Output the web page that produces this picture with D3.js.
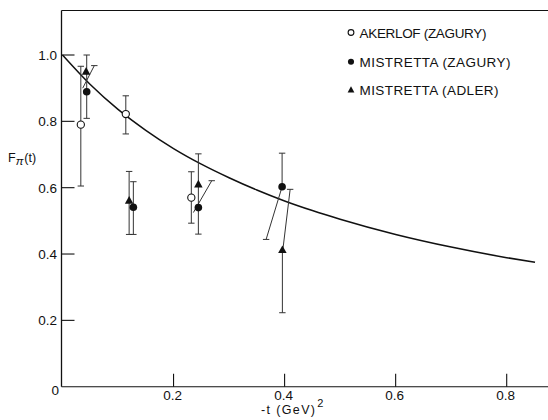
<!DOCTYPE html>
<html>
<head>
<meta charset="utf-8">
<script src="https://cdn.jsdelivr.net/npm/d3@7"></script>
<style>
  html, body { margin: 0; padding: 0; background: #fff; }
  svg { display: block; }
  text { font-family: "Liberation Sans", Arial, sans-serif; fill: #111; }
</style>
</head>
<body>
<svg id="chart" width="548" height="420"></svg>
<script>
// Pion form factor F_pi(t) versus -t (GeV)^2

// Theoretical curve, sampled
const curveT = [0, 0.05, 0.1, 0.15, 0.2, 0.25, 0.3, 0.35, 0.4, 0.45, 0.5, 0.6, 0.7, 0.8, 0.851];
const curveF = [1.0, 0.911, 0.836, 0.773, 0.718, 0.671, 0.630, 0.593, 0.560, 0.531, 0.505, 0.459, 0.421, 0.389, 0.375];

// Akerlof (Zagury): open circles
const akerlofT  = [0.033, 0.114, 0.232];
const akerlofF  = [0.790, 0.822, 0.570];
const akerlofLo = [0.605, 0.762, 0.493];
const akerlofHi = [0.966, 0.877, 0.648];

// Mistretta (Zagury): filled circles
const mzT  = [0.0436, 0.1276, 0.2447, 0.3955];
const mzF  = [0.889, 0.541, 0.540, 0.603];
const mzLo = [0.809, 0.459, 0.460, null];
const mzHi = [1.000, 0.618, 0.702, 0.704];

// Mistretta (Adler): filled triangles
const maT  = [0.0425, 0.120, 0.2447, 0.396];
const maF  = [0.950, 0.561, 0.610, 0.412];
const maLo = [null, 0.459, null, 0.223];
const maHi = [null, 0.649, null, null];

// Slanted bars: [t1, F1, t2, F2]; cap drawn at the second end
const slantBars = [
  [0.0364, 0.900, 0.0573, 0.968],
  [0.2357, 0.525, 0.2688, 0.621],
  [0.3937, 0.593, 0.3667, 0.444],
  [0.3968, 0.412, 0.4100, 0.595]
];

const xTicks = [0.2, 0.4, 0.6, 0.8];
const xTickLabels = ["0.2", "0.4", "0.6", "0.8"];
const yTicks = [0, 0.2, 0.4, 0.6, 0.8, 1.0];
const yTickLabels = ["0", "0.2", "0.4", "0.6", "0.8", "1.0"];

const legendLabels = ["AKERLOF (ZAGURY)", "MISTRETTA (ZAGURY)", "MISTRETTA (ADLER)"];
const legendKinds = ["open", "filled", "triangle"];

const svg = d3.select("#chart");
const x = d3.scaleLinear().domain([0, 0.8]).range([62.5, 506.7]);
const y = d3.scaleLinear().domain([0, 1.0]).range([386.7, 55]);
const frameL = 61.5, frameR = 548, frameT = y(1.134), frameB = y(0);

const ink = "#111";

// Frame: left axis, bottom axis, top border
svg.append("line").attr("x1", frameL).attr("x2", frameL).attr("y1", frameT).attr("y2", frameB)
  .attr("stroke", ink).attr("stroke-width", 1.3);
svg.append("line").attr("x1", frameL).attr("x2", frameR).attr("y1", frameB).attr("y2", frameB)
  .attr("stroke", ink).attr("stroke-width", 1.1);
svg.append("line").attr("x1", frameL).attr("x2", frameR).attr("y1", frameT).attr("y2", frameT)
  .attr("stroke", ink).attr("stroke-width", 1.1);

// Y ticks (pointing inward) and labels
yTicks.forEach((v, i) => {
  if (v > 0) {
    svg.append("line").attr("x1", frameL).attr("x2", frameL + 13)
      .attr("y1", y(v)).attr("y2", y(v)).attr("stroke", ink).attr("stroke-width", 1.1);
  }
  svg.append("text").attr("x", v === 0 ? 59 : 57).attr("y", y(v) + (v === 0 ? 8.5 : 5))
    .attr("text-anchor", "end").attr("font-size", 13.5).text(yTickLabels[i]);
});

// X ticks (pointing up) and labels
xTicks.forEach((v, i) => {
  svg.append("line").attr("x1", x(v)).attr("x2", x(v))
    .attr("y1", frameB).attr("y2", frameB - 13).attr("stroke", ink).attr("stroke-width", 1.1);
  svg.append("text").attr("x", x(v) - 1).attr("y", 399.5)
    .attr("text-anchor", "middle").attr("font-size", 13.5).text(xTickLabels[i]);
});

// Axis titles
const xt = svg.append("text").attr("x", 261).attr("y", 414).attr("font-size", 12.5);
xt.append("tspan").attr("textLength", 54).attr("lengthAdjust", "spacing").text("-t (GeV)");
xt.append("tspan").attr("dx", 1).attr("dy", -7).attr("font-size", 11).text("2");

const yt = svg.append("text").attr("x", 8).attr("y", 162).attr("font-size", 12.5);
yt.append("tspan").text("F");
yt.append("tspan").attr("dy", 3).attr("font-size", 11.5).attr("font-style", "italic").text("π");
yt.append("tspan").attr("dy", -3).attr("dx", 1).text("(t)");

// Theoretical curve
const line = d3.line().x(d => x(d[0])).y(d => y(d[1])).curve(d3.curveMonotoneX);
svg.append("path").datum(curveT.map((t, i) => [t, curveF[i]]))
  .attr("d", line).attr("fill", "none").attr("stroke", ink).attr("stroke-width", 1.5);

// Error bars
const barColor = "#333";
const capHalf = 3.2;
function vbar(t, lo, hi) {
  const g = svg.append("g").attr("stroke", barColor).attr("stroke-width", 1);
  g.append("line").attr("x1", x(t)).attr("x2", x(t)).attr("y1", y(lo)).attr("y2", y(hi));
  g.append("line").attr("x1", x(t) - capHalf).attr("x2", x(t) + capHalf).attr("y1", y(hi)).attr("y2", y(hi));
  g.append("line").attr("x1", x(t) - capHalf).attr("x2", x(t) + capHalf).attr("y1", y(lo)).attr("y2", y(lo));
}
function vbarHalf(t, from, to) {
  const g = svg.append("g").attr("stroke", barColor).attr("stroke-width", 1);
  g.append("line").attr("x1", x(t)).attr("x2", x(t)).attr("y1", y(from)).attr("y2", y(to));
  g.append("line").attr("x1", x(t) - capHalf).attr("x2", x(t) + capHalf).attr("y1", y(to)).attr("y2", y(to));
}

akerlofT.forEach((t, i) => vbar(t, akerlofLo[i], akerlofHi[i]));
mzT.forEach((t, i) => {
  if (mzLo[i] !== null) vbar(t, mzLo[i], mzHi[i]);
  else vbarHalf(t, mzF[i], mzHi[i]);
});
maT.forEach((t, i) => {
  if (maLo[i] !== null && maHi[i] !== null) vbar(t, maLo[i], maHi[i]);
  else if (maLo[i] !== null) vbarHalf(t, maF[i], maLo[i]);
});

slantBars.forEach(b => {
  const g = svg.append("g").attr("stroke", barColor).attr("stroke-width", 1);
  g.append("line").attr("x1", x(b[0])).attr("y1", y(b[1])).attr("x2", x(b[2])).attr("y2", y(b[3]));
  g.append("line").attr("x1", x(b[2]) - capHalf).attr("x2", x(b[2]) + capHalf)
    .attr("y1", y(b[3])).attr("y2", y(b[3]));
});

// Markers
function triPath(cx, cy, s) {
  const h = s * 0.9;
  return `M${cx},${cy - h * 0.6}L${cx + s / 2},${cy + h * 0.4}L${cx - s / 2},${cy + h * 0.4}Z`;
}
function marker(kind, cx, cy, scale) {
  if (kind === "open") {
    svg.append("circle").attr("cx", cx).attr("cy", cy).attr("r", 3.6 * scale)
      .attr("fill", "#fff").attr("stroke", ink).attr("stroke-width", 1.1);
  } else if (kind === "filled") {
    svg.append("circle").attr("cx", cx).attr("cy", cy).attr("r", 3.8 * scale).attr("fill", ink);
  } else {
    svg.append("path").attr("d", triPath(cx, cy, 8.5 * scale)).attr("fill", ink);
  }
}
akerlofT.forEach((t, i) => marker("open", x(t), y(akerlofF[i]), 1));
mzT.forEach((t, i) => marker("filled", x(t), y(mzF[i]), 1));
maT.forEach((t, i) => marker("triangle", x(t), y(maF[i]), 1));

// Legend
const legendBase = [37.5, 66.8, 95];
const legendWidths = [127, 151, 139];
legendLabels.forEach((lab, i) => {
  marker(legendKinds[i], 351, legendBase[i] - 5, 0.8);
  svg.append("text").attr("x", 359.5).attr("y", legendBase[i]).attr("font-size", 13.5)
    .attr("textLength", legendWidths[i]).attr("lengthAdjust", "spacing").text(lab);
});
</script>
</body>
</html>
